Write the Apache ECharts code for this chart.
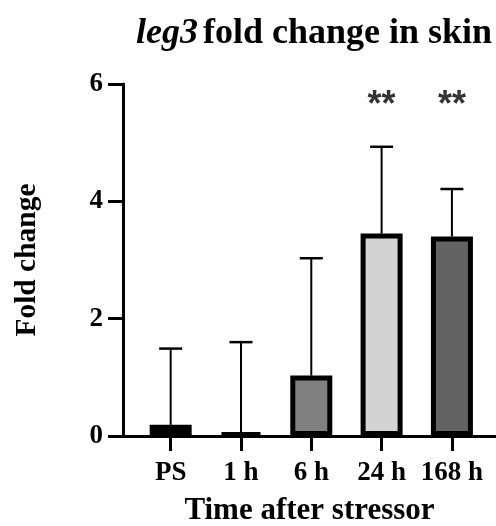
<!DOCTYPE html>
<html>
<head>
<meta charset="utf-8">
<script src="https://cdn.jsdelivr.net/npm/echarts@6/dist/echarts.min.js"></script>
<style>
  html, body { margin: 0; padding: 0; background: #fff; }
  #chart { width: 496px; height: 526px; }
</style>
</head>
<body>
<div id="chart"></div>
<script>
// Time points after the stressor
const categories = ['PS', '1 h', '6 h', '24 h', '168 h'];
// Mean fold change per time point
const meanValues = [0.19, 0.05, 1.03, 3.45, 3.40];
// Standard deviation (upper error bar)
const sdValues = [1.30, 1.55, 2.00, 1.48, 0.81];
// Bar fill colours
const barColors = ['#000000', '#000000', '#808080', '#d3d3d3', '#636363'];
// Significance marks
const sigMarks = ['', '', '', '**', '**'];
const sigLevel = 5.62;
// Y axis ticks
const yTicks = [0, 2, 4, 6];

const serif = '"Liberation Serif", "Times New Roman", serif';
const idx = categories.map((_, i) => i);

const chart = echarts.init(document.getElementById('chart'), null, { renderer: 'canvas' });

chart.setOption({
  backgroundColor: '#ffffff',
  animation: false,
  title: {
    text: '{it|leg3} {b|fold change in skin}',
    left: 131,
    top: 11,
    textStyle: {
      rich: {
        it: { fontFamily: serif, fontStyle: 'italic', fontWeight: 'bold', fontSize: 36, color: '#000' },
        b: { fontFamily: serif, fontWeight: 'bold', fontSize: 36, color: '#000' }
      }
    }
  },
  grid: { left: 123, right: 0, top: 84, bottom: 90, containLabel: false, outerBoundsMode: 'none' },
  xAxis: {
    type: 'value',
    min: -0.678,
    max: 4.627,
    splitLine: { show: false },
    axisLine: { show: true, onZero: false, lineStyle: { color: '#000', width: 3 } },
    axisTick: { show: true, customValues: idx, length: 15, lineStyle: { color: '#000', width: 3 } },
    axisLabel: {
      customValues: idx,
      formatter: v => categories[Math.round(v)] || '',
      margin: 24,
      fontFamily: serif,
      fontWeight: 'bold',
      fontSize: 27,
      color: '#000'
    },
    name: 'Time after stressor',
    nameLocation: 'middle',
    nameGap: 59,
    nameTextStyle: { fontFamily: serif, fontWeight: 'bold', fontSize: 31, color: '#000' }
  },
  yAxis: {
    type: 'value',
    min: 0,
    max: 6,
    interval: 2,
    splitLine: { show: false },
    axisLine: { show: true, onZero: false, lineStyle: { color: '#000', width: 3 } },
    axisTick: { show: true, length: 15, lineStyle: { color: '#000', width: 3 } },
    axisLabel: {
      customValues: yTicks,
      margin: 20,
      fontFamily: serif,
      fontWeight: 'bold',
      fontSize: 27,
      color: '#000'
    },
    name: 'Fold change',
    nameLocation: 'middle',
    nameGap: 81,
    nameTextStyle: { fontFamily: serif, fontWeight: 'bold', fontSize: 29.5, color: '#000' }
  },
  series: [
    {
      type: 'bar',
      barWidth: 42,
      data: meanValues.map((v, i) => ({
        value: [i, v],
        itemStyle: { color: barColors[i], borderColor: '#000', borderWidth: 5 }
      })),
      z: 2
    },
    {
      // error bars: stem from the mean up to mean + SD, with a cap
      type: 'custom',
      z: 3,
      data: meanValues.map((v, i) => [i, v, v + sdValues[i]]),
      renderItem: (params, api) => {
        const base = api.coord([api.value(0), api.value(1)]);
        const top = api.coord([api.value(0), api.value(2)]);
        const half = 11.5;
        return {
          type: 'group',
          children: [
            { type: 'line', shape: { x1: base[0], y1: base[1], x2: top[0], y2: top[1] },
              style: { stroke: '#000', lineWidth: 2 } },
            { type: 'line', shape: { x1: top[0] - half, y1: top[1], x2: top[0] + half, y2: top[1] },
              style: { stroke: '#000', lineWidth: 2.5 } }
          ]
        };
      }
    },
    {
      // significance asterisks
      type: 'scatter',
      symbolSize: 0,
      silent: true,
      data: sigMarks.map((m, i) => [i, sigLevel, m]),
      label: {
        show: true,
        position: 'inside',
        formatter: p => p.value[2],
        fontFamily: '"Liberation Sans", Arial, sans-serif',
        fontWeight: 'bold',
        fontSize: 36,
        color: '#000'
      }
    }
  ]
});
</script>
</body>
</html>
